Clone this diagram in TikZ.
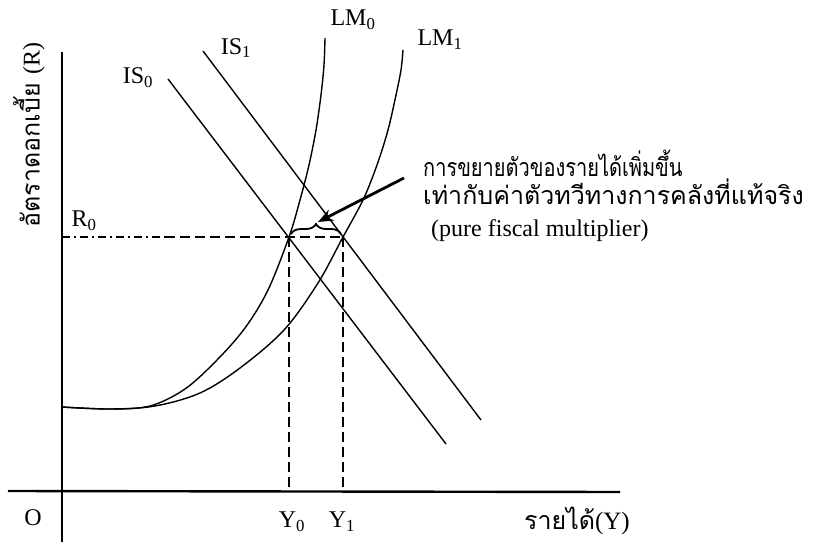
\documentclass[tikz,border=0pt]{standalone}
\usepackage{fontspec}
\setmainfont{Liberation Serif}
\newfontfamily\thaifont[Script=Thai]{Loma}
\usetikzlibrary{arrows.meta,decorations.pathreplacing}
\begin{document}
\begin{tikzpicture}[x=1pt,y=-1pt,
  axis/.style={line width=2.4pt},
  curve/.style={line width=1.4pt},
  guide/.style={line width=1.4pt, dash pattern=on 10pt off 5pt},
  guidedot/.style={line width=1.2pt, dash pattern=on 8pt off 4pt on 2pt off 4pt},
  lbl/.style={font=\fontsize{24}{28}\selectfont, inner sep=0pt},
  thai/.style={font=\thaifont\fontsize{25}{29}\selectfont, inner sep=0pt}]
\useasboundingbox (0,0) rectangle (820,546);
% axes
\coordinate (ytop) at (62,52);
\coordinate (ybot) at (62,542);
\coordinate (xl) at (8,491);
\coordinate (xr) at (620,492);
\draw[axis] (ytop) -- (ybot);
\draw[axis] (xl) -- (xr);
% equilibrium points
\coordinate (e0) at (289,237);
\coordinate (e1) at (343,237);
\coordinate (r0a) at (62,237);
\coordinate (r0b) at (165,237);
\coordinate (y0a) at (289,491);
\coordinate (y1a) at (343,491);
% IS lines
\coordinate (is0s) at (168,79);
\coordinate (is0e) at (446,444);
\coordinate (is1s) at (203,51);
\coordinate (is1e) at (481,420);
\draw[curve] (is0s) -- (is0e);
\draw[curve] (is1s) -- (is1e);
% LM curves
\draw[curve] plot[smooth, tension=0.55] coordinates {(62,407) (110,409) (150,406) (185,389) (217,360) (245,328) (268,290) (289,237) (300,200) (309,165) (316,130) (321,95) (324,65) (325,38)};
\draw[curve] plot[smooth, tension=0.55] coordinates {(62,407) (110,409) (155,406) (200,393) (240,368) (284,330) (318,283) (343,237) (363,200) (377,165) (388,130) (396,95) (401,70) (403,50)};
% guides
\draw[guidedot] (r0a) -- (r0b);
\draw[guide] (r0b) -- (e1);
\draw[guide] (e0) -- (y0a);
\draw[guide] (e1) -- (y1a);
% brace and arrow
\draw[line width=1.8pt, decorate, decoration={brace, amplitude=10pt}] (291,234) -- (341,234);
\coordinate (atail) at (404,178);
\coordinate (ahead) at (318,222);
\draw[line width=2.8pt, -{Stealth[length=15pt,width=12pt]}] (atail) -- (ahead);
% labels
\node[lbl] (lm0) at (353,20) {LM\textsubscript{0}};
\node[lbl] (lm1) at (440,40) {LM\textsubscript{1}};
\node[lbl] (is1) at (236,48) {IS\textsubscript{1}};
\node[lbl] (is0) at (138,78) {IS\textsubscript{0}};
\node[lbl] (r0) at (84,221) {R\textsubscript{0}};
\node[lbl] (o) at (33,518) {O};
\node[lbl] (y0) at (292,522) {Y\textsubscript{0}};
\node[lbl] (y1) at (342,522) {Y\textsubscript{1}};
\node[thai] (inc) at (577,521) {รายได้\rmfamily\fontsize{25}{29}\selectfont(Y)};
\node[thai, rotate=90] (rl) at (29,135) {อัตราดอกเบี้ย \rmfamily\fontsize{24}{28}\selectfont(R)};
\node[thai, anchor=west] (t1) at (423,163) {\scalebox{0.8}[1]{การขยายตัวของรายได้เพิ่มขึ้น}};
\node[thai, anchor=west] (t2) at (423,192) {เท่ากับค่าตัวทวีทางการคลังที่แท้จริง};
\node[lbl, anchor=west] (t3) at (431,231) {(pure fiscal multiplier)};
\end{tikzpicture}
\end{document}
